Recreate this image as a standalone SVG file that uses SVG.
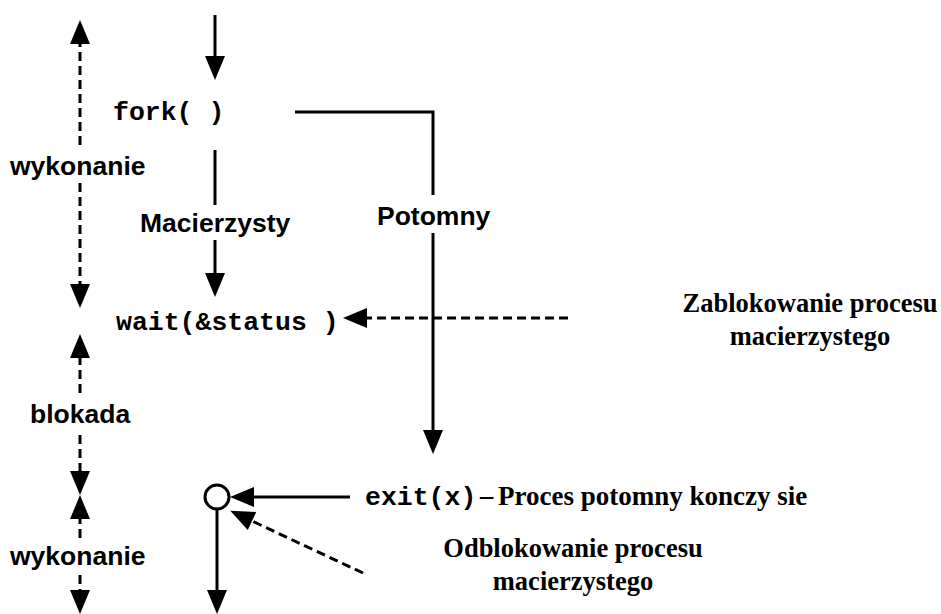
<svg xmlns="http://www.w3.org/2000/svg" width="941" height="614" viewBox="0 0 941 614">
<style>
.ln{stroke:#000;stroke-width:3;fill:none}
.ds{stroke:#000;stroke-width:3;fill:none;stroke-dasharray:9 5}
.sans{font-family:"Liberation Sans",Arial,sans-serif;font-weight:bold;font-size:26.5px;fill:#000}
.mono{font-family:"Liberation Mono","Courier New",monospace;font-weight:bold;font-size:26.5px;fill:#000}
.serif{font-family:"Liberation Serif","Times New Roman",serif;font-weight:bold;font-size:26.5px;fill:#000}
</style>
<defs>
<marker id="ah" markerUnits="userSpaceOnUse" markerWidth="26" markerHeight="22" refX="0" refY="11" orient="auto" viewBox="0 0 26 22" overflow="visible">
<path d="M0,1 L24,11 L0,21 z" fill="#000"/>
</marker>
</defs>
<rect width="941" height="614" fill="#fff"/>
<g id="connectors">
<line class="ln" x1="215" y1="15" x2="215" y2="56" marker-end="url(#ah)"/>
<line class="ln" x1="215" y1="150" x2="215" y2="205"/>
<line class="ln" x1="215" y1="240" x2="215" y2="273" marker-end="url(#ah)"/>
<polyline class="ln" points="295,112 433,112 433,195"/>
<line class="ln" x1="433" y1="233" x2="433" y2="430" marker-end="url(#ah)"/>
<line class="ds" x1="568" y1="318" x2="367" y2="318" marker-end="url(#ah)"/>
<line class="ln" x1="350" y1="497" x2="254" y2="497" marker-end="url(#ah)"/>
<line class="ds" x1="363" y1="573" x2="252" y2="521" marker-end="url(#ah)"/>
<line class="ln" x1="217" y1="509" x2="217" y2="590" marker-end="url(#ah)"/>
<line class="ds" x1="80" y1="145" x2="80" y2="44" marker-end="url(#ah)"/>
<line class="ds" x1="80" y1="183" x2="80" y2="284" marker-end="url(#ah)"/>
<line class="ds" x1="80" y1="393" x2="80" y2="358" marker-end="url(#ah)"/>
<line class="ds" x1="80" y1="435" x2="80" y2="471" marker-end="url(#ah)"/>
<line class="ds" x1="80" y1="538" x2="80" y2="519" marker-end="url(#ah)"/>
<line class="ds" x1="80" y1="575" x2="80" y2="590" marker-end="url(#ah)"/>
</g>
<g id="fork"><text class="mono" x="113" y="120">fork( )</text></g>
<g id="macierzysty"><text class="sans" x="140" y="232">Macierzysty</text></g>
<g id="potomny"><text class="sans" x="377" y="225">Potomny</text></g>
<g id="wait"><text class="mono" x="116" y="330">wait(&amp;status )</text></g>
<g id="join"><circle cx="217" cy="497" r="12" fill="#fff" stroke="#000" stroke-width="3"/></g>
<g id="exit"><text class="mono" x="365" y="505">exit(x)</text><text class="serif" x="480" y="504">–</text><text class="serif" x="498" y="505" style="font-size:27px">Proces potomny konczy sie</text></g>
<g id="zablokowanie"><text class="serif" text-anchor="middle" x="810" y="312">Zablokowanie procesu</text><text class="serif" text-anchor="middle" x="810" y="345">macierzystego</text></g>
<g id="odblokowanie"><text class="serif" text-anchor="middle" x="573" y="557">Odblokowanie procesu</text><text class="serif" text-anchor="middle" x="573" y="590">macierzystego</text></g>
<g id="wykonanie1"><text class="sans" x="10" y="175">wykonanie</text></g>
<g id="blokada"><text class="sans" x="30" y="423">blokada</text></g>
<g id="wykonanie2"><text class="sans" x="10" y="565">wykonanie</text></g>
</svg>
